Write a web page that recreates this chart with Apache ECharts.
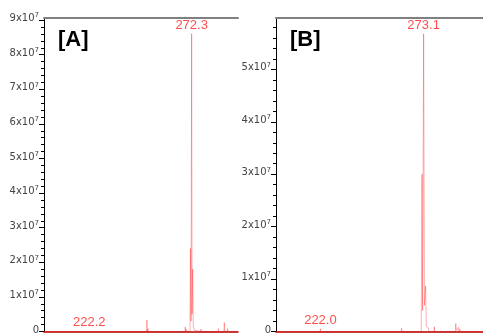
<!DOCTYPE html>
<html>
<head>
<meta charset="utf-8">
<script src="https://cdn.jsdelivr.net/npm/echarts@6/dist/echarts.min.js"></script>
<style>
html,body{margin:0;padding:0;background:#fff;}
#chart{width:483px;height:335px;}
</style>
</head>
<body>
<div id="chart"></div>
<script>
// panel A profile trace (m/z, intensity)
const mzA  = [200, 222.0, 222.2, 222.4, 250.2, 250.4, 250.6, 250.9, 251.1, 261.4, 261.6, 261.8, 269.0, 269.2, 269.4, 269.8, 270.0,
              271.5, 271.7, 272.0, 272.3, 272.5, 272.8, 273.1, 273.5, 273.7, 274.0, 274.2, 276.7, 276.9, 277.1, 281.6, 281.8, 282.0,
              285.2, 285.4, 285.6, 288.1, 288.3, 288.5, 289.7, 289.9, 290.1, 295]
const intA = [0, 0, 2e5, 0, 0, 3.3e6, 0, 8e5, 0, 0, 5e5, 0, 0, 1.3e6, 0, 6e5, 0,
              0, 2.4e7, 3e6, 8.61e7, 5e6, 1.8e7, 1.5e6, 4e5, 0, 9e5, 0, 0, 7e5, 0, 0, 4e5, 0,
              0, 8e5, 0, 0, 2.6e6, 0, 0, 8e5, 0, 0]
// panel B profile trace
const mzB  = [200, 221.8, 222.0, 222.2, 251.3, 251.5, 251.7, 262.0, 262.2, 262.4, 271.9, 272.3, 272.6, 273.1, 273.5, 274.1, 274.4,
              275.4, 275.7, 278.2, 278.4, 278.6, 282.6, 282.8, 283.0, 288.8, 289.0, 289.3, 290.3, 290.6, 291.1, 291.3, 302.5]
const intB = [0, 0, 5e5, 0, 0, 3e5, 0, 0, 6e5, 0, 0, 3.0e7, 4e6, 5.68e7, 5e6, 8.7e6, 1e6,
              7e5, 0, 0, 9e5, 0, 0, 3e5, 0, 0, 1.5e6, 2e5, 8e5, 0, 5e5, 0, 0]
// annotated peaks
const peakMzA  = [222.2, 272.3]
const peakIntA = [2e5, 8.61e7]
const peakMzB  = [222.0, 273.1]
const peakIntB = [5e5, 5.68e7]
// y tick values
const yTicksA = [0, 1e7, 2e7, 3e7, 4e7, 5e7, 6e7, 7e7, 8e7, 9e7]
const yTicksB = [0, 1e7, 2e7, 3e7, 4e7, 5e7]
const xRangeA = [200, 295]
const xRangeB = [200, 302.5]
const yMaxA = 9.06e7
const yMaxB = 5.98e7

const chart = echarts.init(document.getElementById('chart'))

const font = 'Arial, "Liberation Sans", sans-serif'
const tickFont = '"DejaVu Sans", sans-serif'

function yLabel(v){
    if (v === 0) return '{b|0}'
    return '{b|' + Math.round(v / 1e7) + 'x10}{s|7}'
}
const richLabel = {
    b: {fontSize: 10, color: '#444', fontFamily: tickFont, padding: [0, 0, 3, 0]},
    s: {fontSize: 7, color: '#444', fontFamily: tickFont, verticalAlign: 'top', padding: [0, 0, 9, 0]}
}

function bottomAxis(gi, range){
    return {
        gridIndex: gi, type: 'value', min: range[0], max: range[1],
        axisLine: {onZero: false, lineStyle: {color: '#b00000', width: 1.5}},
        axisTick: {show: false}, axisLabel: {show: false}, splitLine: {show: false}
    }
}
function topAxis(gi, range){
    return {
        gridIndex: gi, type: 'value', position: 'top', min: range[0], max: range[1],
        axisLine: {onZero: false, lineStyle: {color: '#808080', width: 2}},
        axisTick: {show: false}, axisLabel: {show: false}, splitLine: {show: false}
    }
}
function leftAxis(gi, max, ticks){
    return {
        gridIndex: gi, type: 'value', min: 0, max: max, interval: 1e7,
        axisLine: {show: true, onZero: false, lineStyle: {color: '#000', width: 1}},
        axisTick: {show: true, length: 5, customValues: ticks, lineStyle: {color: '#000'}},
        minorTick: {show: true, splitNumber: 5, length: 3, lineStyle: {color: '#000'}},
        axisLabel: {customValues: ticks, margin: 5, formatter: yLabel, rich: richLabel},
        splitLine: {show: false}
    }
}
function trace(idx, mz, inten){
    return {
        type: 'line', xAxisIndex: idx * 2, yAxisIndex: idx,
        data: mz.map((m, i) => [m, inten[i]]),
        showSymbol: false, symbol: 'none', sampling: 'none',
        lineStyle: {color: 'rgba(255,0,0,0.32)', width: 1},
        z: 2
    }
}
function peakLabels(idx, mz, inten){
    return {
        type: 'scatter', xAxisIndex: idx * 2, yAxisIndex: idx,
        data: mz.map((m, i) => [m, inten[i]]),
        symbolSize: 0,
        label: {
            show: true, position: 'top', distance: 2,
            formatter: p => p.value[0].toFixed(1),
            color: '#ff2020', fontSize: 13, fontFamily: font
        },
        silent: true, z: 3
    }
}

const option = {
    animation: false,
    backgroundColor: '#fff',
    title: [
        {text: '[A]', left: 53, top: 24, textStyle: {fontSize: 22, fontWeight: 'bold', color: '#000', fontFamily: font}},
        {text: '[B]', left: 285, top: 24, textStyle: {fontSize: 22, fontWeight: 'bold', color: '#000', fontFamily: font}}
    ],
    grid: [
        {left: 44, top: 18, right: 245, bottom: 2},
        {left: 276, top: 18, right: 0, bottom: 2}
    ],
    xAxis: [bottomAxis(0, xRangeA), topAxis(0, xRangeA), bottomAxis(1, xRangeB), topAxis(1, xRangeB)],
    yAxis: [leftAxis(0, yMaxA, yTicksA), leftAxis(1, yMaxB, yTicksB)],
    series: [
        trace(0, mzA, intA), trace(1, mzB, intB),
        peakLabels(0, peakMzA, peakIntA), peakLabels(1, peakMzB, peakIntB)
    ]
}
chart.setOption(option)
</script>
</body>
</html>
